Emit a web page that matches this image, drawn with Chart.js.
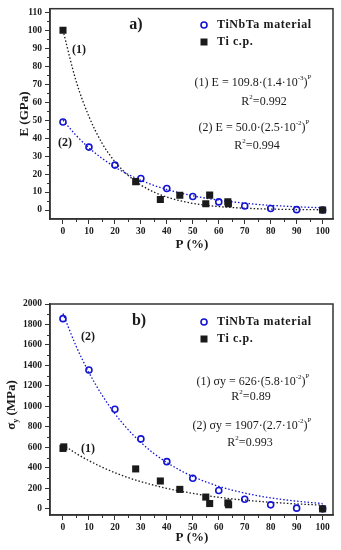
<!DOCTYPE html>
<html>
<head>
<meta charset="utf-8">
<script src="https://cdn.jsdelivr.net/npm/chart.js@4.4.1/dist/chart.umd.min.js"></script>
<style>
  body { margin: 0; background: #fff; }
  canvas { position: absolute; left: 0; }
</style>
</head>
<body>
<canvas id="chartA" width="341" height="262" style="top:0"></canvas>
<canvas id="chartB" width="341" height="288" style="top:262px"></canvas>
<script>
// values
const pTiNbTa = [0, 10, 20, 30, 40, 50, 60, 70, 80, 90, 100];
const eTiNbTa = [49, 35, 25, 17.5, 12, 7.5, 4.5, 2.2, 0.8, 0.2, 0];
const pTi = [0, 28, 37.5, 45, 55, 56.5, 63.5, 63.7, 100];
const eTi = [100, 15.8, 5.8, 8.2, 3.5, 8.3, 4.6, 3.5, 0];

const sTiNbTa = [1857, 1356, 973, 683, 461, 299, 179, 94, 39, 7, 0];
const pTiB = [0, 0.3, 28, 37.5, 45, 55, 56.5, 63.5, 63.8, 100];
const sTi = [590, 605, 390, 272, 190, 115, 52, 58, 40, 0];

// dotted fit curves, read at every 5 %
const pFit = [0, 5, 10, 15, 20, 25, 30, 35, 40, 45, 50, 55, 60, 65, 70, 75, 80, 85, 90, 95, 100];
const eFit1 = [100, 72, 52, 37.3, 26.9, 19.4, 13.9, 10, 7.2, 5.2, 3.7, 2.7, 1.9, 1.4, 1, 0.7, 0.5, 0.37, 0.27, 0.19, 0.14];
const eFit2 = [50, 41.6, 34.6, 28.8, 23.9, 19.9, 16.5, 13.7, 11.4, 9.5, 7.9, 6.6, 5.5, 4.6, 3.8, 3.1, 2.6, 2.2, 1.8, 1.5, 1.25];
const sFit1 = [626, 542, 470, 408, 353, 306, 266, 231, 200, 174, 151, 131, 113, 98, 85, 74, 64, 56, 48, 42, 36];
const sFit2 = [1907, 1592, 1331, 1112, 929, 776, 648, 541, 453, 378, 316, 264, 220, 184, 154, 128, 107, 90, 75, 63, 52];

const BLUE = "#1414d2";
const INK = "#1a1a1a";
const SERIF = "'Liberation Serif', 'Times New Roman', serif";

function pts(xs, ys) {
  return xs.map((x, i) => ({ x: x, y: ys[i] }));
}

function fitSet(xs, ys, color) {
  return {
    type: "line",
    data: pts(xs, ys),
    borderColor: color,
    borderWidth: 1.3,
    borderDash: [1.5, 2],
    pointRadius: 0,
    cubicInterpolationMode: "monotone",
    fill: false,
    order: 3,
  };
}

// draws text made of pieces, some raised or lowered
function rich(ctx, parts, cx, cy) {
  let w = 0;
  parts.forEach((p) => {
    ctx.font = p.font;
    w += ctx.measureText(p.t).width;
  });
  let x = cx - w / 2;
  parts.forEach((p) => {
    ctx.font = p.font;
    ctx.fillText(p.t, x, cy + (p.dy || 0));
    x += ctx.measureText(p.t).width;
  });
}

const reg = "12px " + SERIF;
const sup = "7px " + SERIF;
const bold = (s) => "bold " + s + "px " + SERIF;

function makeChart(id, opts) {
  const boxPlugin = {
    id: "extras",
    afterDraw(chart) {
      const ctx = chart.ctx;
      const a = chart.chartArea;
      const xs = chart.scales.x;
      const ys = chart.scales.y;
      ctx.save();
      // frame
      ctx.strokeStyle = "#333";
      ctx.lineWidth = 1.5;
      ctx.strokeRect(a.left, a.top, a.right - a.left, a.bottom - a.top);
      // minor ticks
      ctx.lineWidth = 1;
      ctx.beginPath();
      for (let v = 5; v < 100; v += 10) {
        const px = Math.round(xs.getPixelForValue(v)) + 0.5;
        ctx.moveTo(px, a.bottom);
        ctx.lineTo(px, a.bottom + 3);
      }
      opts.yMinor.forEach((v) => {
        const py = Math.round(ys.getPixelForValue(v)) + 0.5;
        ctx.moveTo(a.left, py);
        ctx.lineTo(a.left - 3, py);
      });
      ctx.stroke();

      ctx.fillStyle = INK;
      ctx.textBaseline = "middle";
      const off = opts.offset;
      // panel letter
      ctx.font = bold(16);
      ctx.textAlign = "center";
      ctx.fillText(opts.letter, opts.letterX, opts.letterY - off);
      // legend
      ctx.strokeStyle = BLUE;
      ctx.lineWidth = 1.6;
      ctx.beginPath();
      ctx.arc(204, opts.legY - off, 3, 0, Math.PI * 2);
      ctx.stroke();
      ctx.fillStyle = INK;
      ctx.fillRect(200.5, opts.legY + 17 - off - 3.5, 7, 7);
      ctx.textAlign = "left";
      ctx.font = bold(12);
      ctx.letterSpacing = "0.6px";
      ctx.fillText("TiNbTa material", 217, opts.legY - off);
      ctx.fillText("Ti c.p.", 217, opts.legY + 17 - off);
      ctx.letterSpacing = "0px";
      // curve labels
      ctx.font = bold(12);
      ctx.textAlign = "center";
      opts.curveLabels.forEach((l) => {
        ctx.fillText(l[0], l[1], l[2] - off);
      });
      // equations
      ctx.textAlign = "left";
      opts.equations.forEach((e) => rich(ctx, e.parts, e.x, e.y - off));
      // axis titles
      rich(ctx, [{ t: "P (%)", font: bold(13) }], 192, opts.xTitleY - off);
      ctx.save();
      ctx.translate(opts.yTitleX, opts.yTitleY - off);
      ctx.rotate(-Math.PI / 2);
      rich(ctx, opts.yTitle, 0, 0);
      ctx.restore();
      ctx.restore();
    },
  };

  const tickFont = { family: SERIF, size: 9.5, weight: "bold" };
  const axisGrid = {
    drawOnChartArea: false,
    drawTicks: true,
    tickLength: 5,
    color: "#333",
    lineWidth: 1,
  };

  return new Chart(document.getElementById(id), {
    type: "scatter",
    data: {
      datasets: [
        {
          label: "TiNbTa material",
          data: opts.blue,
          pointStyle: "circle",
          pointRadius: 3,
          pointBorderWidth: 1.6,
          pointBorderColor: BLUE,
          pointBackgroundColor: "rgba(255,255,255,0)",
          order: 2,
        },
        {
          label: "Ti c.p.",
          data: opts.black,
          pointStyle: "rect",
          pointRadius: 5,
          pointBorderWidth: 0,
          pointBackgroundColor: INK,
          pointBorderColor: INK,
          order: 1,
        },
        fitSet(pFit, opts.fit1, INK),
        fitSet(pFit, opts.fit2, BLUE),
      ],
    },
    options: {
      responsive: false,
      animation: false,
      devicePixelRatio: 1,
      layout: { padding: { left: 0, right: 8, top: opts.padTop, bottom: 0 } },
      plugins: { legend: { display: false }, tooltip: { enabled: false } },
      scales: {
        x: {
          type: "linear",
          min: -5,
          max: 104,
          grid: axisGrid,
          border: { display: true, color: "#333", width: 1.5 },
          ticks: {
            stepSize: 10,
            includeBounds: false,
            font: tickFont,
            color: INK,
            padding: 2,
            maxRotation: 0,
            callback: (v) => String(v),
          },
          afterFit: (s) => { s.height = opts.xHeight; },
        },
        y: {
          type: "linear",
          min: opts.yMin,
          max: opts.yMax,
          grid: axisGrid,
          border: { display: true, color: "#333", width: 1.5 },
          ticks: {
            stepSize: opts.yStep,
            includeBounds: false,
            font: tickFont,
            color: INK,
            padding: 3,
            callback: (v) => String(v),
          },
          afterFit: (s) => { s.width = 50; },
        },
      },
    },
    plugins: [boxPlugin],
  });
}

makeChart("chartA", {
  blue: pts(pTiNbTa, eTiNbTa),
  black: pts(pTi, eTi),
  fit1: eFit1,
  fit2: eFit2,
  yMin: -5,
  yMax: 112,
  yStep: 10,
  yMinor: [5, 15, 25, 35, 45, 55, 65, 75, 85, 95, 105],
  padTop: 5,
  xHeight: 262 - 219,
  offset: 0,
  letter: "a)",
  letterX: 136,
  letterY: 25,
  legY: 25,
  curveLabels: [["(1)", 79, 50], ["(2)", 65, 143]],
  equations: [
    { x: 253, y: 83, parts: [{ t: "(1) E = 109.8·(1.4·10", font: reg }, { t: "-3", font: sup, dy: -5 }, { t: ")", font: reg }, { t: "P", font: sup, dy: -6 }] },
    { x: 264, y: 102, parts: [{ t: "R", font: reg }, { t: "2", font: sup, dy: -5 }, { t: "=0.992", font: reg }] },
    { x: 254, y: 128, parts: [{ t: "(2) E = 50.0·(2.5·10", font: reg }, { t: "-2", font: sup, dy: -5 }, { t: ")", font: reg }, { t: "P", font: sup, dy: -6 }] },
    { x: 257, y: 146, parts: [{ t: "R", font: reg }, { t: "2", font: sup, dy: -5 }, { t: "=0.994", font: reg }] },
  ],
  xTitleY: 245,
  yTitleX: 25,
  yTitleY: 114,
  yTitle: [{ t: "E (GPa)", font: bold(13) }],
});

makeChart("chartB", {
  blue: pts(pTiNbTa, sTiNbTa),
  black: pts(pTiB, sTi),
  fit1: sFit1,
  fit2: sFit2,
  yMin: -60,
  yMax: 2000,
  yStep: 200,
  yMinor: [100, 300, 500, 700, 900, 1100, 1300, 1500, 1700, 1900],
  padTop: 304 - 262,
  xHeight: 288 - (515 - 262),
  offset: 262,
  letter: "b)",
  letterX: 139,
  letterY: 321,
  legY: 322,
  curveLabels: [["(2)", 88, 337], ["(1)", 88, 449]],
  equations: [
    { x: 253, y: 382, parts: [{ t: "(1) σy = 626·(5.8·10", font: reg }, { t: "-2", font: sup, dy: -5 }, { t: ")", font: reg }, { t: "P", font: sup, dy: -6 }] },
    { x: 251, y: 397, parts: [{ t: "R", font: reg }, { t: "2", font: sup, dy: -5 }, { t: "=0.89", font: reg }] },
    { x: 252, y: 426, parts: [{ t: "(2) σy = 1907·(2.7·10", font: reg }, { t: "-2", font: sup, dy: -5 }, { t: ")", font: reg }, { t: "P", font: sup, dy: -6 }] },
    { x: 250, y: 443, parts: [{ t: "R", font: reg }, { t: "2", font: sup, dy: -5 }, { t: "=0.993", font: reg }] },
  ],
  xTitleY: 538,
  yTitleX: 12,
  yTitleY: 405,
  yTitle: [{ t: "σ", font: bold(13) }, { t: "y", font: bold(8), dy: 4 }, { t: " (MPa)", font: bold(13) }],
});
</script>
</body>
</html>
